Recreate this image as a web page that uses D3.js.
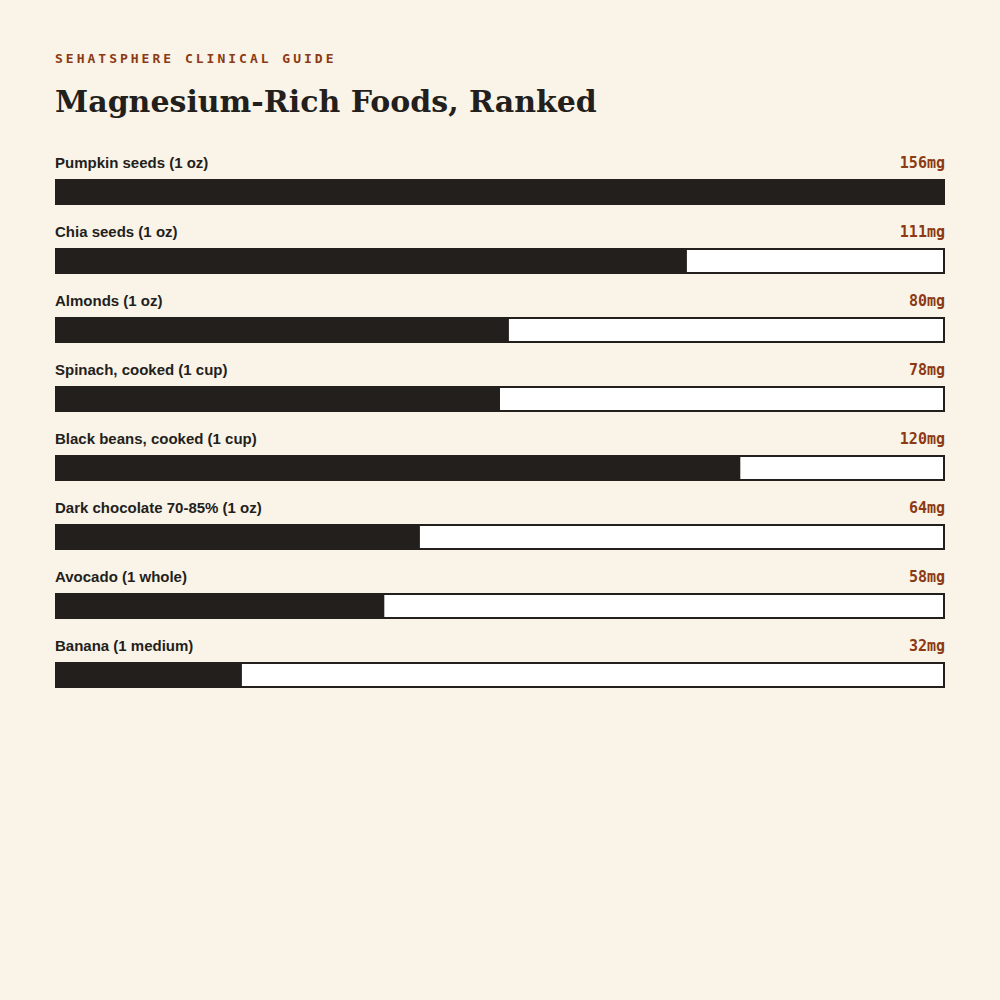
<!DOCTYPE html>
<html>
<head>
<meta charset="utf-8">
<script src="https://cdn.jsdelivr.net/npm/d3@7"></script>
<style>
  html, body { margin: 0; padding: 0; background: #faf3e8; }
</style>
</head>
<body>
<svg id="chart" width="1000" height="1000"></svg>
<script>
var foods = ["Pumpkin seeds (1 oz)", "Chia seeds (1 oz)", "Almonds (1 oz)", "Spinach, cooked (1 cup)",
             "Black beans, cooked (1 cup)", "Dark chocolate 70-85% (1 oz)", "Avocado (1 whole)", "Banana (1 medium)"];
var mg = [156, 111, 80, 78, 120, 64, 58, 32];

var ink = "#231f1c", accent = "#8b3a14";
var svg = d3.select("#chart");

svg.append("rect").attr("width", 1000).attr("height", 1000).attr("fill", "#faf3e8");

svg.append("text")
  .attr("x", 55).attr("y", 63)
  .style("font-family", "DejaVu Sans Mono")
  .style("font-weight", "bold")
  .style("font-size", "13px")
  .style("letter-spacing", "3px")
  .attr("fill", accent)
  .text("SEHATSPHERE CLINICAL GUIDE");

svg.append("text")
  .attr("x", 55).attr("y", 112)
  .style("font-family", "DejaVu Serif")
  .style("font-weight", "bold")
  .style("font-size", "30px")
  .attr("fill", ink)
  .text("Magnesium-Rich Foods, Ranked");

// bar length is the share of the top value, in whole percent
var maxMg = d3.max(mg);
var x = d3.scaleLinear().domain([0, 100]).range([55, 945]);
var y = d3.scaleBand().domain(foods).range([145, 697]).paddingInner(0);

var row = svg.selectAll(".row")
  .data(foods.map(function(f, i) { return { name: f, v: mg[i], pct: Math.round(mg[i] / maxMg * 100) }; }))
  .enter().append("g")
  .attr("class", "row")
  .attr("transform", function(d) { return "translate(0," + y(d.name) + ")"; });

row.append("text")
  .attr("x", 55).attr("y", 23)
  .style("font-family", "Liberation Sans")
  .style("font-weight", "bold")
  .style("font-size", "15px")
  .attr("fill", ink)
  .text(function(d) { return d.name; });

row.append("text")
  .attr("x", 945).attr("y", 23)
  .attr("text-anchor", "end")
  .style("font-family", "DejaVu Sans Mono")
  .style("font-weight", "bold")
  .style("font-size", "15px")
  .attr("fill", accent)
  .text(function(d) { return d.v + "mg"; });

row.append("rect")
  .attr("x", 56).attr("y", 35)
  .attr("width", x(100) - x(0) - 2).attr("height", 24)
  .attr("fill", "#ffffff")
  .attr("stroke", ink)
  .attr("stroke-width", 2);

row.append("rect")
  .attr("x", x(0)).attr("y", 34)
  .attr("width", function(d) { return x(d.pct) - x(0); })
  .attr("height", 26)
  .attr("fill", ink);
</script>
</body>
</html>
